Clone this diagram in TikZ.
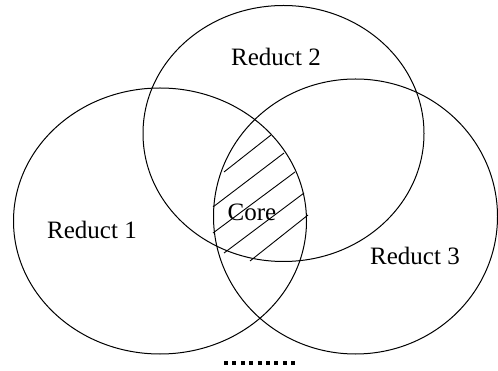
\documentclass[tikz,border=0pt]{standalone}
\usepackage{fontspec}
\setmainfont{Liberation Serif}
\usetikzlibrary{shapes.geometric}
\begin{document}
\begin{tikzpicture}[x=1pt,y=-1pt,
  setell/.style={draw=black, line width=1pt, ellipse, inner sep=0pt},
  lbl/.style={font=\fontsize{25}{30}\selectfont, inner sep=0pt},
  hatch/.style={line width=0.9pt}]
\useasboundingbox (0,0) rectangle (498,371);
\node[setell, minimum width=293pt, minimum height=266pt] (r1) at (160,221) {};
\node[setell, minimum width=281pt, minimum height=256pt] (r2) at (283.5,133.5) {};
\node[setell, minimum width=284pt, minimum height=275pt] (r3) at (355.5,216.5) {};
\node[lbl] (t2) at (276,57) {Reduct 2};
\node[lbl] (t1) at (92,230) {Reduct 1};
\node[lbl] (t3) at (415,256) {Reduct 3};
\node[lbl] (core) at (252,212) {Core};
\draw[hatch] (224,172) -- (271,135);
\draw[hatch] (213,207) -- (284,153);
\draw[hatch] (213,233) -- (295,172);
\draw[hatch] (224,253) -- (304,193);
\draw[hatch] (250,261) -- (308,215);
\coordinate (d1) at (224,363);
\coordinate (d2) at (296,363);
\draw[line width=3.5pt, dash pattern=on 4pt off 4.4pt] (d1) -- (d2);
\end{tikzpicture}
\end{document}
